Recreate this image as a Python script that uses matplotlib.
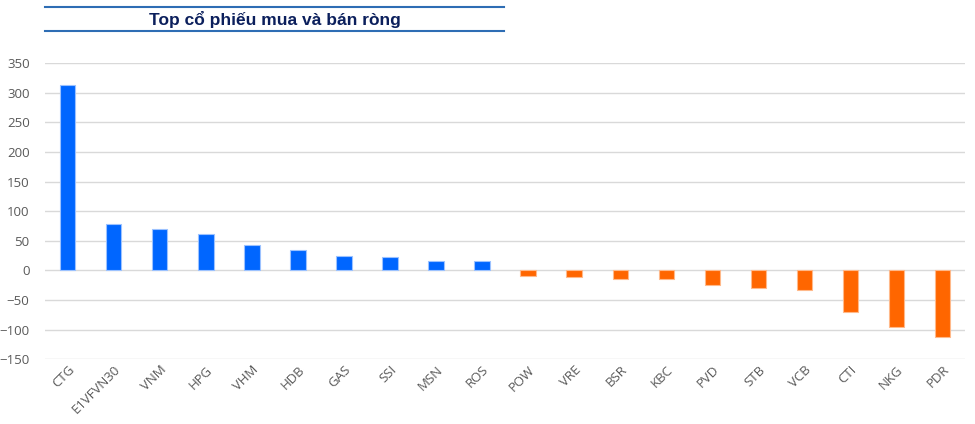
import matplotlib.pyplot as plt
import numpy as np

# net buy / sell values
buy_tickers = ['CTG', 'E1VFVN30', 'VNM', 'HPG', 'VHM', 'HDB', 'GAS', 'SSI', 'MSN', 'ROS']
buy_values = [313, 78, 70, 62, 42, 34, 25, 22, 15, 15]
sell_tickers = ['POW', 'VRE', 'BSR', 'KBC', 'PVD', 'STB', 'VCB', 'CTI', 'NKG', 'PDR']
sell_values = [-9, -11, -14, -14, -24, -29, -34, -70, -95, -113]

tickers = buy_tickers + sell_tickers
values = buy_values + sell_values
colors = ['#0066FF'] * len(buy_values) + ['#FF6600'] * len(sell_values)
edges = ['#9CC2FF'] * len(buy_values) + ['#FFB98A'] * len(sell_values)

plt.rcParams['font.family'] = ['Open Sans', 'DejaVu Sans']

fig = plt.figure(figsize=(9.75, 4.24), dpi=100)
ax = fig.add_axes([0.046, 0.153, 0.944, 0.698])

x = np.arange(len(tickers))
ax.bar(x, values, width=0.33, color=colors, edgecolor=edges, linewidth=0.8, zorder=3)

ax.set_xlim(-0.5, len(tickers) - 0.5)
ax.set_ylim(-150, 350)
ax.set_yticks(np.arange(-150, 351, 50))
ax.grid(axis='y', color='#d9d9d9', linewidth=1, zorder=0)
for s in ax.spines.values():
    s.set_visible(False)
ax.tick_params(length=0, labelsize=9.5, colors='#595959')
ax.tick_params(axis='y', pad=11)
ax.tick_params(axis='x', pad=3)
ax.set_xticks(x)
ax.set_xticklabels(tickers, rotation=45, ha='right', rotation_mode='anchor')

# title band with lines above and below
fig.text(0.282, 0.955, 'Top cổ phiếu mua và bán ròng', ha='center', va='center',
         fontsize=12.5, fontweight='bold', color='#0b1f5c', family='Liberation Sans')
fig.add_artist(plt.Line2D([0.046, 0.517], [0.984, 0.984], color='#2E6DB4', lw=1.5))
fig.add_artist(plt.Line2D([0.046, 0.517], [0.927, 0.927], color='#2E6DB4', lw=1.5))

plt.savefig('out.png', dpi=100)
